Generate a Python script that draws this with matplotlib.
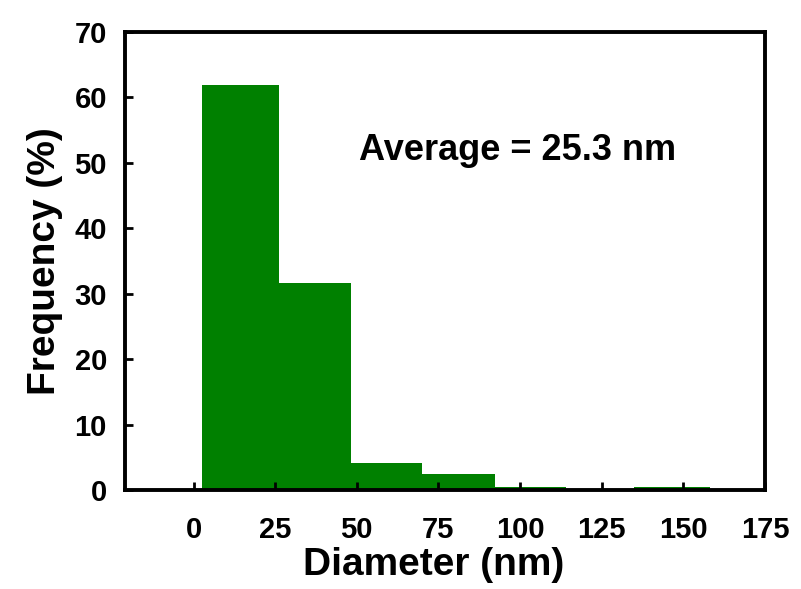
import matplotlib.pyplot as plt
import numpy as np

plt.rcParams['font.family'] = ['Liberation Sans', 'DejaVu Sans']
plt.rcParams['font.weight'] = 'bold'

# bin edges (nm) and frequency (%)
bin_edges = [2.7, 26.1, 48.1, 70.1, 92.2, 114.2, 134.9, 158.3]
freq = [61.8, 31.6, 4.2, 2.4, 0.5, 0.0, 0.5]

x_ticks = [0, 25, 50, 75, 100, 125, 150, 175]
y_ticks = [0, 10, 20, 30, 40, 50, 60, 70]

fig = plt.figure(figsize=(8.01, 5.89), dpi=100)
ax = fig.add_axes([0.156, 0.168, 0.799, 0.778])

lefts = np.array(bin_edges[:-1])
widths = np.diff(bin_edges)
ax.bar(lefts, freq, width=widths, align='edge', color='#008000', linewidth=0)

ax.set_xlim(-21, 175)
ax.set_ylim(0, 70)
ax.set_xticks(x_ticks)
ax.set_yticks(y_ticks)
ax.tick_params(direction='in', length=6, width=2, labelsize=21, pad=13)
ax.tick_params(axis='x', pad=19)
for lab in ax.get_xticklabels() + ax.get_yticklabels():
    lab.set_fontweight('bold')

for s in ax.spines.values():
    s.set_linewidth(2.8)

ax.set_xlabel('Diameter (nm)', fontsize=28, fontweight='bold')
ax.xaxis.set_label_coords(0.483, -0.125)
ax.set_ylabel('Frequency (%)', fontsize=28, fontweight='bold', labelpad=8)

ax.text(0.614, 0.742, 'Average = 25.3 nm', transform=ax.transAxes,
        fontsize=26, fontweight='bold', ha='center', va='center')

fig.savefig('out.png', dpi=100)
